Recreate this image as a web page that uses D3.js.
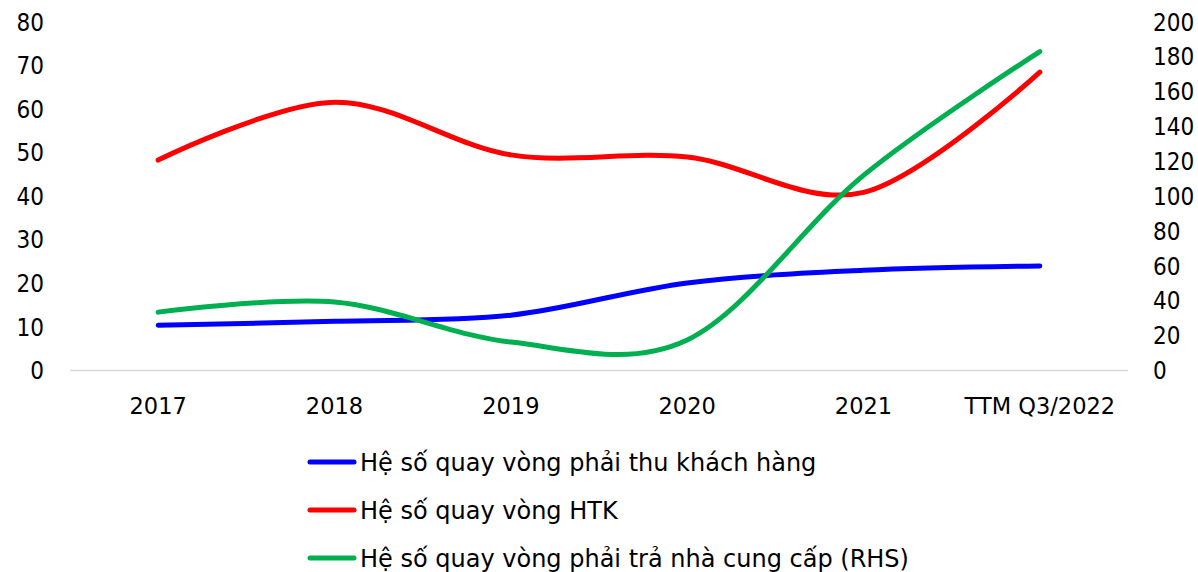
<!DOCTYPE html>
<html><head><meta charset="utf-8">
<script src="https://cdn.jsdelivr.net/npm/d3@7"></script>
<style>body{margin:0;background:#fff}svg{display:block}text{font-family:"DejaVu Sans Condensed","DejaVu Sans",sans-serif;fill:#000}</style>
</head><body><svg id="c" width="1198" height="572"></svg>
<script>
const categories = ["2017","2018","2019","2020","2021","TTM Q3/2022"];
const receivableTurnover = [10.4, 11.3, 12.7, 20.1, 23.0, 24.0];
const inventoryTurnover = [48.3, 61.6, 49.5, 49.0, 40.9, 68.5];
const payableTurnover = [33.5, 39.3, 16.3, 17.5, 112, 183];
const leftTicks = [0,10,20,30,40,50,60,70,80];
const rightTicks = [0,20,40,60,80,100,120,140,160,180,200];
const seriesNames = ["Hệ số quay vòng phải thu khách hàng","Hệ số quay vòng HTK","Hệ số quay vòng phải trả nhà cung cấp (RHS)"];
const seriesColors = ["#0000FF","#FF0000","#00B050"];

const svg = d3.select("#c");
const x = d3.scaleBand().domain(categories).range([70,1128]);
const yL = d3.scaleLinear().domain([0,80]).range([370.5,22]);
const yR = d3.scaleLinear().domain([0,200]).range([370.5,22]);
const fs = 24;

svg.append("line").attr("x1",70).attr("x2",1128).attr("y1",yL(0)).attr("y2",yL(0))
  .attr("stroke","#d9d9d9").attr("stroke-width",1.5);

svg.append("g").selectAll("text").data(leftTicks).join("text")
  .attr("x",44).attr("y",d=>yL(d)).attr("dy","0.36em").attr("text-anchor","end")
  .attr("font-size",fs).text(d=>d);
svg.append("g").selectAll("text").data(rightTicks).join("text")
  .attr("x",1153).attr("y",d=>yR(d)).attr("dy","0.36em").attr("text-anchor","start")
  .attr("font-size",fs).text(d=>d);
svg.append("g").selectAll("text").data(categories).join("text")
  .attr("x",d=>x(d)+x.bandwidth()/2).attr("y",406).attr("dy","0.36em").attr("text-anchor","middle")
  .style("font-family","'DejaVu Sans',sans-serif").attr("font-size",22.5).text(d=>d);

const cx = d=>x(d)+x.bandwidth()/2;
const series = [
  {vals:receivableTurnover, y:yL},
  {vals:inventoryTurnover, y:yL},
  {vals:payableTurnover, y:yR}
];
series.forEach((s,i)=>{
  const line = d3.line().x((d,j)=>cx(categories[j])).y(d=>s.y(d)).curve(d3.curveCatmullRom.alpha(0));
  svg.append("path").datum(s.vals).attr("d",line).attr("fill","none")
    .attr("stroke",seriesColors[i]).attr("stroke-width",5).attr("stroke-linecap","round");
});

const lg = svg.append("g");
seriesNames.forEach((n,i)=>{
  const yy = 462 + i*48;
  lg.append("line").attr("x1",310).attr("x2",354).attr("y1",yy).attr("y2",yy)
    .attr("stroke",seriesColors[i]).attr("stroke-width",5).attr("stroke-linecap","round");
  lg.append("text").attr("x",360).attr("y",yy).attr("dy","0.36em")
    .style("font-family","'DejaVu Sans',sans-serif").attr("font-size",fs).text(n);
});
</script></body></html>
